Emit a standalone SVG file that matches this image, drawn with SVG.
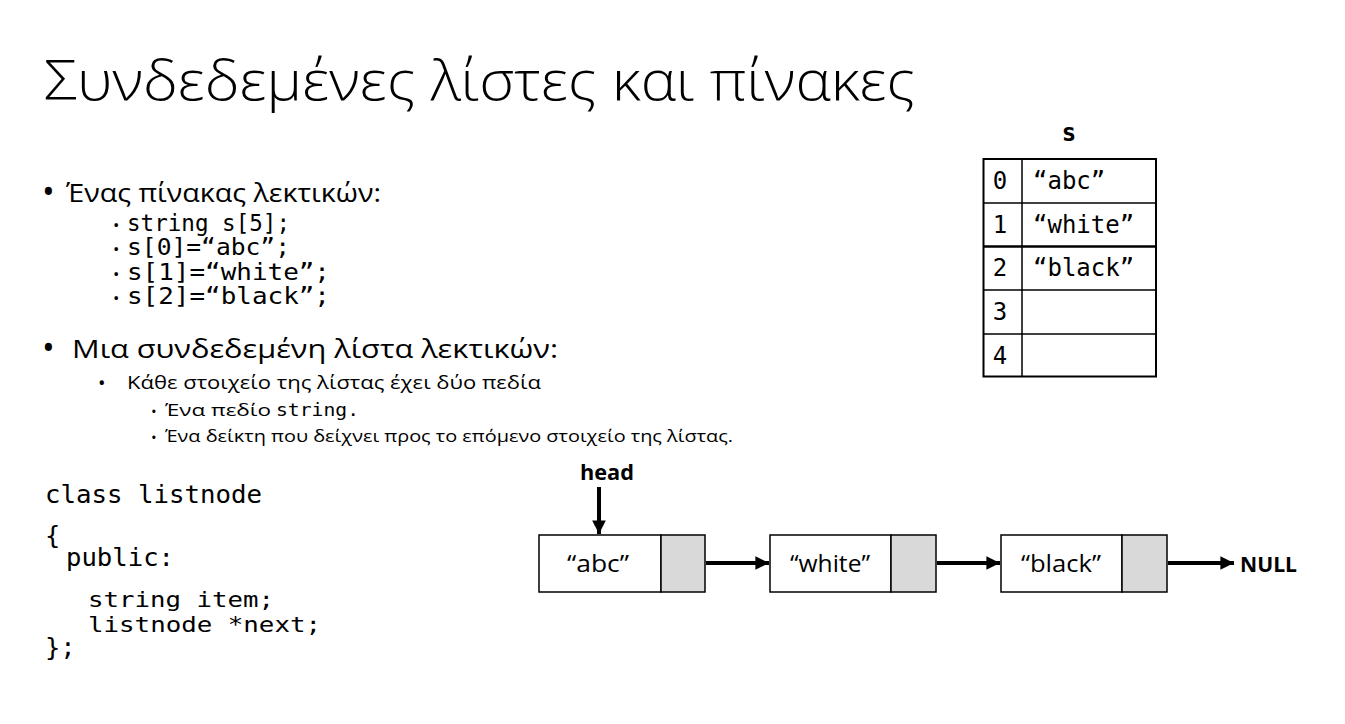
<svg xmlns="http://www.w3.org/2000/svg" width="1345" height="724" viewBox="0 0 1345 724">
  <style>
    .sans { font-family: "Open Sans", "Noto Sans", "DejaVu Sans", sans-serif; fill: #000; }
    .mono { font-family: "DejaVu Sans Mono", "Liberation Mono", monospace; fill: #000; }
    .bold { font-weight: bold; }
    .cell { fill: #fff; stroke: #000; stroke-width: 1.5; }
    .ptr { fill: #d9d9d9; stroke: #000; stroke-width: 1.5; }
    .link { stroke: #000; stroke-width: 4; fill: none; marker-end: url(#arrow); }
  </style>
  <defs>
    <marker id="arrow" viewBox="0 0 10 10" refX="10" refY="5" markerWidth="3.4" markerHeight="3.4" orient="auto" markerUnits="strokeWidth">
      <path d="M0,0 L10,5 L0,10 Z" fill="#000"/>
    </marker>
  </defs>
  <rect width="1345" height="724" fill="#fff"/>

  <!-- title -->
  <text class="sans" x="44" y="100" font-size="56" font-weight="300" textLength="871" lengthAdjust="spacingAndGlyphs">Συνδεδεμένες λίστες και πίνακες</text>

  <!-- bullet list -->
  <g id="bullets">
    <text class="sans" x="42" y="204" font-size="34">•</text>
    <text class="sans" x="66" y="202" font-size="25" textLength="315" lengthAdjust="spacingAndGlyphs">Ένας πίνακας λεκτικών:</text>
    <text class="sans" x="113" y="231" font-size="17">•</text>
    <text class="mono" x="127" y="231" font-size="22.5" textLength="163" lengthAdjust="spacingAndGlyphs">string s[5];</text>
    <text class="sans" x="113" y="255" font-size="17">•</text>
    <text class="mono" x="127" y="255" font-size="22.5" textLength="163" lengthAdjust="spacingAndGlyphs">s[0]=“abc”;</text>
    <text class="sans" x="113" y="280" font-size="17">•</text>
    <text class="mono" x="127" y="280" font-size="22.5" textLength="203" lengthAdjust="spacingAndGlyphs">s[1]=“white”;</text>
    <text class="sans" x="113" y="304" font-size="17">•</text>
    <text class="mono" x="127" y="304" font-size="22.5" textLength="203" lengthAdjust="spacingAndGlyphs">s[2]=“black”;</text>

    <text class="sans" x="42" y="360" font-size="34">•</text>
    <text class="sans" x="72" y="358" font-size="25" textLength="486" lengthAdjust="spacingAndGlyphs">Μια συνδεδεμένη λίστα λεκτικών:</text>
    <text class="sans" x="98" y="390" font-size="20">•</text>
    <text class="sans" x="127" y="389" font-size="18" textLength="414" lengthAdjust="spacingAndGlyphs">Κάθε στοιχείο της λίστας έχει δύο πεδία</text>
    <text class="sans" x="151" y="417" font-size="15">•</text>
    <text class="sans" x="165" y="416" font-size="16" textLength="106" lengthAdjust="spacingAndGlyphs">Ένα πεδίο</text>
    <text class="mono" x="276" y="416" font-size="17" textLength="83" lengthAdjust="spacingAndGlyphs">string.</text>
    <text class="sans" x="151" y="443" font-size="15">•</text>
    <text class="sans" x="165" y="442" font-size="16" textLength="568" lengthAdjust="spacingAndGlyphs">Ένα δείκτη που δείχνει προς το επόμενο στοιχείο της λίστας.</text>
  </g>

  <!-- class declaration -->
  <g id="code" class="mono" font-size="25.5">
    <text x="45" y="503" textLength="217" lengthAdjust="spacingAndGlyphs">class listnode</text>
    <text x="45" y="544">{</text>
    <text x="66" y="566" textLength="108" lengthAdjust="spacingAndGlyphs">public:</text>
    <text x="88" y="607" font-size="22" textLength="186" lengthAdjust="spacingAndGlyphs">string item;</text>
    <text x="88" y="632" font-size="22" textLength="233" lengthAdjust="spacingAndGlyphs">listnode *next;</text>
    <text x="45" y="656">};</text>
  </g>

  <!-- array s -->
  <g id="array-s">
    <text class="mono bold" x="1069" y="141" font-size="24" text-anchor="middle">s</text>
    <rect x="983.5" y="159" width="172.5" height="217.5" fill="#fff" stroke="#000" stroke-width="2"/>
    <line x1="1022" y1="159" x2="1022" y2="376.5" stroke="#000" stroke-width="1.5"/>
    <line x1="983.5" y1="203" x2="1156" y2="203" stroke="#000" stroke-width="1.5"/>
    <line x1="983.5" y1="246.5" x2="1156" y2="246.5" stroke="#000" stroke-width="2.5"/>
    <line x1="983.5" y1="290" x2="1156" y2="290" stroke="#000" stroke-width="1.5"/>
    <line x1="983.5" y1="334" x2="1156" y2="334" stroke="#000" stroke-width="1.5"/>
    <g class="mono" font-size="24">
      <text x="1000" y="189" text-anchor="middle">0</text>
      <text x="1000" y="233" text-anchor="middle">1</text>
      <text x="1000" y="276" text-anchor="middle">2</text>
      <text x="1000" y="320" text-anchor="middle">3</text>
      <text x="1000" y="364" text-anchor="middle">4</text>
      <text x="1033" y="189">“abc”</text>
      <text x="1033" y="233">“white”</text>
      <text x="1033" y="276">“black”</text>
    </g>
  </g>

  <!-- linked list nodes -->
  <g id="node-abc">
    <rect class="cell" x="539" y="535" width="122" height="57"/>
    <rect class="ptr" x="661" y="535" width="44" height="57"/>
    <text class="sans" x="598" y="572" font-size="23" text-anchor="middle" textLength="62" lengthAdjust="spacingAndGlyphs">“abc”</text>
  </g>
  <g id="node-white">
    <rect class="cell" x="770" y="535" width="121" height="57"/>
    <rect class="ptr" x="891" y="535" width="45" height="57"/>
    <text class="sans" x="830" y="572" font-size="23" text-anchor="middle" textLength="80" lengthAdjust="spacingAndGlyphs">“white”</text>
  </g>
  <g id="node-black">
    <rect class="cell" x="1001" y="535" width="121" height="57"/>
    <rect class="ptr" x="1122" y="535" width="45" height="57"/>
    <text class="sans" x="1061" y="572" font-size="23" text-anchor="middle" textLength="80" lengthAdjust="spacingAndGlyphs">“black”</text>
  </g>
  <g id="head">
    <text class="sans bold" x="607" y="480" font-size="22" text-anchor="middle" textLength="54" lengthAdjust="spacingAndGlyphs">head</text>
  </g>
  <g id="null">
    <text class="sans bold" x="1240" y="572" font-size="22" textLength="57" lengthAdjust="spacingAndGlyphs">NULL</text>
  </g>

  <!-- pointers -->
  <g id="connectors">
    <line class="link" x1="599" y1="487" x2="599" y2="534"/>
    <line class="link" x1="706" y1="563" x2="769" y2="563"/>
    <line class="link" x1="937" y1="563" x2="1000" y2="563"/>
    <line class="link" x1="1168" y1="563" x2="1234" y2="563"/>
  </g>
</svg>
